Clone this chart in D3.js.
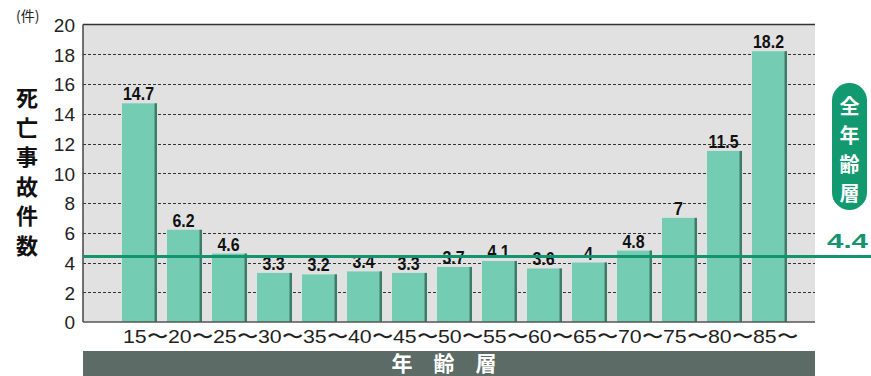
<!DOCTYPE html>
<html><head><meta charset="utf-8">
<script src="https://cdn.jsdelivr.net/npm/d3@7"></script>
<style>body{margin:0;background:#fff}svg{display:block}</style>
</head><body>
<svg id="c" width="871" height="376"></svg>
<script>
const categories = ["15","20","25","30","35","40","45","50","55","60","65","70","75","80","85"];
const values = [14.7, 6.2, 4.6, 3.3, 3.2, 3.4, 3.3, 3.7, 4.1, 3.6, 4, 4.8, 7, 11.5, 18.2];
const valueLabels = ["14.7","6.2","4.6","3.3","3.2","3.4","3.3","3.7","4.1","3.6","4","4.8","7","11.5","18.2"];
const yTicks = [0,2,4,6,8,10,12,14,16,18,20];
const average = 4.4;
const yTitle = ["死","亡","事","故","件","数"];
const badgeText = ["全","年","齢","層"];
const xTitle = "年　齢　層";
const unitLabel = "(件)";

const svg = d3.select("#c");
const L = 83, R = 815, T = 24.5, B = 322;
const y = d3.scaleLinear().domain([0,20]).range([B,T]);
const x = d3.scaleBand().domain(categories).range([117, 792]).paddingInner(0.222).paddingOuter(0.111);

// plot bg
svg.append("rect").attr("x",L).attr("y",T).attr("width",R-L).attr("height",B-T).attr("fill","#e1e1e1");

// grid
svg.append("g").selectAll("line").data(yTicks.filter(d=>d>0&&d<20)).join("line")
  .attr("x1",L).attr("x2",R).attr("y1",d=>Math.round(y(d))+0.5).attr("y2",d=>Math.round(y(d))+0.5)
  .attr("stroke","#333").attr("stroke-width",1).attr("stroke-dasharray","3,2");

// top border
svg.append("line").attr("x1",L).attr("x2",R).attr("y1",T).attr("y2",T).attr("stroke","#333").attr("stroke-width",1.5);

// bars
const bw = x.bandwidth();
const g = svg.append("g");
g.selectAll("rect.bar").data(values).join("rect").attr("class","bar")
  .attr("x",(d,i)=>x(categories[i])).attr("y",d=>y(d)).attr("width",bw).attr("height",d=>B-y(d))
  .attr("fill","#74cdb2");
g.selectAll("rect.sh").data(values).join("rect").attr("class","sh")
  .attr("x",(d,i)=>x(categories[i])+bw-2.5).attr("y",d=>y(d)).attr("width",2.5).attr("height",d=>B-y(d))
  .attr("fill","#3e7c69");

// value labels (condensed bold)
g.selectAll("text.v").data(values).join("text").attr("class","v")
  .attr("transform",(d,i)=>`translate(${x(categories[i])+bw/2-1},${y(d)-3}) scale(0.84,1)`)
  .attr("text-anchor","middle")
  .attr("font-family","'Liberation Sans',Arial,sans-serif")
  .attr("font-weight","bold").attr("font-size",19).attr("fill","#111")
  .text((d,i)=>valueLabels[i]);

// axes lines
svg.append("line").attr("x1",L).attr("x2",L).attr("y1",T).attr("y2",B).attr("stroke","#444").attr("stroke-width",1.5);
svg.append("line").attr("x1",L).attr("x2",R).attr("y1",B).attr("y2",B).attr("stroke","#555").attr("stroke-width",1.5);

// y tick labels
const yAxis = d3.axisLeft(y).tickValues(yTicks).tickSize(0).tickPadding(8);
const ya = svg.append("g").attr("transform",`translate(${L},0)`).call(yAxis);
ya.select(".domain").remove();
ya.selectAll("text").attr("font-family","'Liberation Sans',Arial,sans-serif").attr("font-size",19).attr("fill","#222")
  .attr("dy","0.36em");

// unit label
svg.append("text").attr("x",16).attr("y",21).attr("font-family","'Noto Sans CJK JP',sans-serif")
  .attr("font-size",14).attr("fill","#222").text(unitLabel);

// y title
svg.append("g").selectAll("text").data(yTitle).join("text")
  .attr("x",27).attr("y",(d,i)=>98+i*29.6).attr("dy","0.36em").attr("text-anchor","middle")
  .attr("font-family","'Noto Sans CJK JP',sans-serif").attr("font-weight","bold").attr("font-size",22).attr("fill","#111")
  .text(d=>d);

// x labels
svg.append("g").selectAll("text").data(categories).join("text")
  .attr("x",d=>x(d)+bw/2+6).attr("y",343).attr("text-anchor","middle")
  .attr("font-family","'Liberation Sans',Arial,sans-serif").attr("font-size",19).attr("fill","#222")
  .attr("textLength",45).attr("lengthAdjust","spacingAndGlyphs")
  .text(d=>d+"〜");

// bottom band
svg.append("rect").attr("x",L).attr("y",351).attr("width",R-L).attr("height",25).attr("fill","#5c6b65");
svg.append("text").attr("x",(L+R)/2-5).attr("y",371).attr("text-anchor","middle")
  .attr("font-family","'Noto Sans CJK JP',sans-serif").attr("font-weight","bold").attr("font-size",21).attr("fill","#fff").text(xTitle);

// average line
svg.append("line").attr("x1",L).attr("x2",871).attr("y1",y(average)).attr("y2",y(average))
  .attr("stroke","#13936f").attr("stroke-width",3);
svg.append("text").attr("x",827).attr("y",y(average)-9)
  .attr("font-family","'Liberation Sans',Arial,sans-serif").attr("font-weight","bold").attr("font-size",21)
  .attr("textLength",41).attr("lengthAdjust","spacingAndGlyphs")
  .attr("fill","#13936f").text(average);

// badge
svg.append("rect").attr("x",832).attr("y",83).attr("width",35).attr("height",127).attr("rx",17.5).attr("ry",17.5).attr("fill","#13996f");
svg.append("g").selectAll("text").data(badgeText).join("text")
  .attr("x",849.5).attr("y",(d,i)=>107+i*29).attr("dy","0.36em").attr("text-anchor","middle")
  .attr("font-family","'Noto Sans CJK JP',sans-serif").attr("font-weight","bold").attr("font-size",20).attr("fill","#fff")
  .text(d=>d);
</script>
</body></html>
